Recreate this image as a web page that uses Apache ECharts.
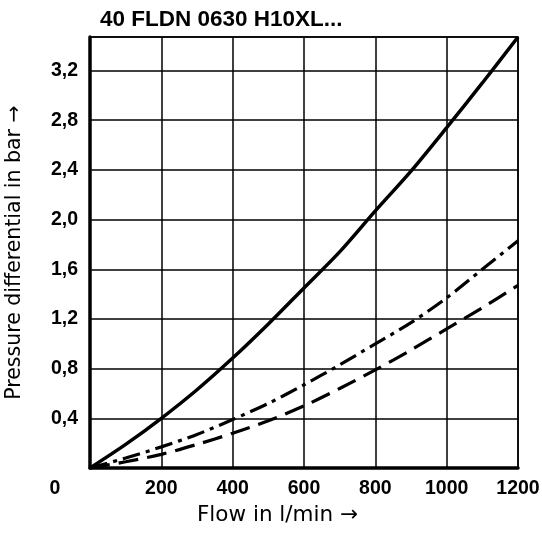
<!DOCTYPE html>
<html>
<head>
<meta charset="utf-8">
<script src="https://cdn.jsdelivr.net/npm/echarts@6/dist/echarts.min.js"></script>
<style>
  html, body { margin: 0; padding: 0; background: #fff; }
  #chart { width: 542px; height: 535px; }
</style>
</head>
<body>
<div id="chart"></div>
<script>
// Flow rate in l/min
const flow = [0, 100, 200, 300, 400, 500, 600, 700, 800, 900, 1000, 1100, 1200];
// Pressure differential in bar for the three curves
const solidCurve   = [0, 0.19, 0.40, 0.63, 0.885, 1.16, 1.45, 1.74, 2.07, 2.39, 2.74, 3.10, 3.47];
const dashDotCurve = [0, 0.08, 0.17, 0.27, 0.39, 0.52, 0.67, 0.83, 1.00, 1.17, 1.37, 1.60, 1.83];
const dashedCurve  = [0, 0.05, 0.11, 0.19, 0.28, 0.38, 0.50, 0.64, 0.79, 0.95, 1.12, 1.29, 1.47];

const titleText = '40 FLDN 0630 H10XL...';
const xName = 'Flow in l/min \u2192';
const yName = 'Pressure differential in bar \u2192';

const labelFont = '"Liberation Sans", Arial, sans-serif';
const nameFont = '"DejaVu Sans", sans-serif';

const pairs = ys => flow.map((x, i) => [x, ys[i]]);

const chart = echarts.init(document.getElementById('chart'), null, { renderer: 'canvas' });

chart.setOption({
  animation: false,
  backgroundColor: '#fff',
  title: {
    text: titleText,
    left: 95,
    top: 3,
    textStyle: { fontFamily: labelFont, fontWeight: 'bold', fontSize: 22.5, color: '#000' }
  },
  grid: {
    left: 90, right: 24, top: 37, bottom: 67,
    outerBoundsMode: 'none',
    containLabel: false,
    show: true, borderColor: '#000', borderWidth: 1.5, backgroundColor: 'transparent'
  },
  xAxis: {
    type: 'value',
    min: 0, max: 1200, interval: 200,
    axisLine: { show: true, onZero: false, lineStyle: { color: '#000', width: 3.5 } },
    axisTick: { show: false },
    splitLine: { show: true, lineStyle: { color: '#000', width: 1.5 } },
    axisLabel: {
      margin: 11,
      fontFamily: labelFont, fontWeight: 'bold', fontSize: 19.5, color: '#000',
      formatter: v => v === 0 ? '{z|0}' : String(v),
      rich: {
        z: { fontFamily: labelFont, fontWeight: 'bold', fontSize: 19.5, color: '#000', padding: [0, 70, 0, 0] }
      }
    }
  },
  yAxis: {
    type: 'value',
    min: 0, max: 3.47, interval: 0.4,
    name: yName,
    nameLocation: 'middle',
    nameGap: 65,
    nameTextStyle: { fontFamily: nameFont, fontSize: 20.5, color: '#000' },
    axisLine: { show: true, onZero: false, lineStyle: { color: '#000', width: 3.5 } },
    axisTick: { show: false },
    splitLine: { show: true, lineStyle: { color: '#000', width: 1.5 } },
    axisLabel: {
      margin: 12,
      fontFamily: labelFont, fontWeight: 'bold', fontSize: 19.5, color: '#000',
      formatter: v => (v === 0 || v > 3.3) ? '' : v.toFixed(1).replace('.', ',')
    }
  },
  graphic: [{
    type: 'text',
    left: 197,
    top: 504,
    style: { text: xName, font: '21.5px ' + nameFont, fill: '#000' }
  }],
  series: [
    {
      type: 'line', data: pairs(solidCurve), smooth: 0.3, showSymbol: false,
      lineStyle: { color: '#000', width: 3.5, type: 'solid' }
    },
    {
      type: 'line', data: pairs(dashDotCurve), smooth: 0.3, showSymbol: false,
      lineStyle: { color: '#000', width: 3.2, type: [18, 6, 4, 6] }
    },
    {
      type: 'line', data: pairs(dashedCurve), smooth: 0.3, showSymbol: false,
      lineStyle: { color: '#000', width: 3.2, type: [20, 9] }
    }
  ]
});
</script>
</body>
</html>
